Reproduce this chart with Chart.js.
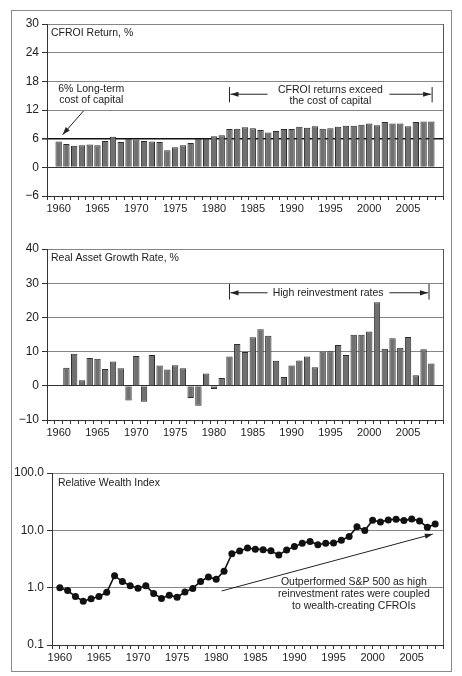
<!DOCTYPE html>
<html>
<head>
<meta charset="utf-8">
<script src="https://cdn.jsdelivr.net/npm/chart.js@4/dist/chart.umd.min.js"></script>
<style>
  body { margin: 0; background: #fff; }
  #wrap { position: relative; width: 462px; height: 676px; overflow: hidden; }
  #frame { position: absolute; left: 11px; top: 10px; width: 439px; height: 660px; border: 1px solid #8a8a8a; }
  canvas { position: absolute; left: 0; }
</style>
</head>
<body>
<div id="wrap">
  <div id="frame"></div>
  <canvas id="cfroiChart" width="462" height="220" style="top:0"></canvas>
  <canvas id="growthChart" width="462" height="220" style="top:220px"></canvas>
  <canvas id="wealthChart" width="462" height="236" style="top:440px"></canvas>
</div>
<script>
// anos
const years = [1960, 1961, 1962, 1963, 1964, 1965, 1966, 1967, 1968, 1969,
  1970, 1971, 1972, 1973, 1974, 1975, 1976, 1977, 1978, 1979,
  1980, 1981, 1982, 1983, 1984, 1985, 1986, 1987, 1988, 1989,
  1990, 1991, 1992, 1993, 1994, 1995, 1996, 1997, 1998, 1999,
  2000, 2001, 2002, 2003, 2004, 2005, 2006, 2007, 2008];

// CFROI Return, %
const cfroi = [5.4, 4.9, 4.5, 4.6, 4.8, 4.6, 5.5, 6.4, 5.3, 6.0,
  5.8, 5.5, 5.4, 5.3, 3.6, 4.2, 4.6, 5.1, 6.0, 6.0,
  6.5, 6.7, 8.0, 8.1, 8.4, 8.2, 7.8, 7.3, 7.6, 8.0,
  8.0, 8.5, 8.3, 8.6, 8.1, 8.2, 8.5, 8.7, 8.7, 8.9,
  9.2, 8.8, 9.5, 9.2, 9.2, 8.6, 9.5, 9.6, 9.6];

// Real Asset Growth Rate, % (sem valor em 1960)
const growth = [null, 5.3, 9.4, 1.6, 8.1, 7.9, 4.9, 7.1, 5.1, -4.3,
  8.7, -4.7, 9.0, 5.9, 4.8, 6.0, 5.1, -3.6, -5.8, 3.6,
  -0.9, 2.3, 8.6, 12.2, 9.9, 14.2, 16.5, 14.6, 7.3, 2.6,
  5.9, 7.4, 8.6, 5.4, 10.0, 10.1, 11.9, 9.0, 14.9, 14.9,
  15.9, 24.4, 10.8, 13.9, 11.1, 14.3, 3.1, 10.7, 6.5];

// Relative Wealth Index
const wealth = [1.0, 0.89, 0.70, 0.58, 0.64, 0.70, 0.83, 1.62, 1.28, 1.08,
  0.98, 1.08, 0.79, 0.65, 0.74, 0.68, 0.84, 0.97, 1.28, 1.54,
  1.40, 1.94, 3.9, 4.35, 4.9, 4.7, 4.6, 4.4, 3.7, 4.55,
  5.2, 5.96, 6.4, 5.6, 5.96, 6.0, 6.7, 7.8, 11.5, 9.9,
  15.0, 14.0, 15.2, 15.6, 14.8, 15.8, 14.5, 11.3, 12.9];

// marcas do eixo
const cfroiTicks = [-6, 0, 6, 12, 18, 24, 30];
const growthTicks = [-10, 0, 10, 20, 30, 40];
const wealthTicks = [0.1, 1, 10, 100];
const yearLabels = [1960, 1965, 1970, 1975, 1980, 1985, 1990, 1995, 2000, 2005];

const FONT = '"Liberation Sans", Arial, sans-serif';
Chart.defaults.font.family = FONT;
Chart.defaults.color = '#222';

const minusLabel = v => (v < 0 ? '\u2212' + Math.abs(v) : String(v));

function xAxis(axisHeight) {
  return {
    type: 'linear',
    min: 1959,
    max: 2009,
    afterBuildTicks: s => {
      const t = [];
      for (let y = 1959; y <= 2009; y++) t.push({ value: y });
      s.ticks = t;
    },
    afterFit: s => { s.height = axisHeight; },
    grid: { drawOnChartArea: false, drawTicks: true, tickLength: 4, color: '#333', lineWidth: 1 },
    border: { display: true, color: '#333', width: 1 },
    ticks: {
      autoSkip: false,
      maxRotation: 0,
      padding: 2,
      font: { size: 11 },
      color: '#222',
      callback: v => (yearLabels.includes(v) ? String(v) : '')
    }
  };
}

function yGrid(special) {
  return {
    drawTicks: true,
    tickLength: 5,
    tickColor: '#333',
    color: c => (special[c.tick.value] ? special[c.tick.value].color : '#858585'),
    lineWidth: c => (special[c.tick.value] ? special[c.tick.value].width : 1)
  };
}

function arrow(ctx, x1, y1, x2, y2) {
  ctx.beginPath();
  ctx.moveTo(x1, y1);
  ctx.lineTo(x2, y2);
  ctx.stroke();
  const a = Math.atan2(y2 - y1, x2 - x1);
  const len = 8, w = 2.6;
  ctx.beginPath();
  ctx.moveTo(x2, y2);
  ctx.lineTo(x2 - len * Math.cos(a) + w * Math.sin(a), y2 - len * Math.sin(a) - w * Math.cos(a));
  ctx.lineTo(x2 - len * Math.cos(a) - w * Math.sin(a), y2 - len * Math.sin(a) + w * Math.cos(a));
  ctx.closePath();
  ctx.fill();
}

function textAt(ctx, str, x, y, align) {
  ctx.textAlign = align || 'center';
  ctx.textBaseline = 'middle';
  ctx.fillText(str, x, y);
}

// borda direita da area do grafico
const rightBorder = {
  id: 'rightBorder',
  beforeDatasetsDraw(chart) {
    const { ctx, chartArea } = chart;
    ctx.save();
    ctx.strokeStyle = '#555';
    ctx.lineWidth = 1;
    ctx.beginPath();
    ctx.moveTo(chartArea.right + 0.5, chartArea.top);
    ctx.lineTo(chartArea.right + 0.5, chartArea.bottom);
    ctx.stroke();
    ctx.restore();
  }
};

function bracket(ctx, sx, sy, yearA, yearB, arrowEndA, arrowEndB, value, vTop, vBot, lines, textYear, textVals) {
  const y = sy.getPixelForValue(value);
  const xa = sx.getPixelForValue(yearA), xb = sx.getPixelForValue(yearB);
  ctx.beginPath();
  ctx.moveTo(xa, sy.getPixelForValue(vTop));
  ctx.lineTo(xa, sy.getPixelForValue(vBot));
  ctx.moveTo(xb, sy.getPixelForValue(vTop));
  ctx.lineTo(xb, sy.getPixelForValue(vBot));
  ctx.stroke();
  arrow(ctx, sx.getPixelForValue(arrowEndA), y, xa + 1, y);
  arrow(ctx, sx.getPixelForValue(arrowEndB), y, xb - 1, y);
  lines.forEach((l, i) => textAt(ctx, l, sx.getPixelForValue(textYear), sy.getPixelForValue(textVals[i])));
}

function noteStyle(ctx) {
  ctx.fillStyle = '#222';
  ctx.strokeStyle = '#222';
  ctx.lineWidth = 1;
  ctx.font = '10.5px ' + FONT;
}

const barStyle = {
  backgroundColor: '#707070',
  borderColor: '#2e2e2e',
  borderWidth: 1,
  barPercentage: 0.82,
  categoryPercentage: 1
};

// ---------- Painel 1: CFROI ----------
new Chart(document.getElementById('cfroiChart'), {
  type: 'bar',
  data: {
    datasets: [Object.assign({ data: years.map((y, i) => ({ x: y, y: cfroi[i] })) }, barStyle)]
  },
  options: {
    responsive: false,
    animation: false,
    devicePixelRatio: 1,
    layout: { padding: { top: 24, right: 19, left: 0, bottom: 0 } },
    plugins: { legend: { display: false }, tooltip: { enabled: false } },
    scales: {
      x: xAxis(24),
      y: {
        min: -6, max: 30,
        afterBuildTicks: s => { s.ticks = cfroiTicks.map(v => ({ value: v })); },
        afterFit: s => { s.width = 47; },
        grid: yGrid({ 6: { color: '#111', width: 1.6 }, 0: { color: '#333', width: 1 } }),
        border: { display: true, color: '#333', width: 1 },
        ticks: { font: { size: 12 }, padding: 3, color: '#222', callback: minusLabel }
      }
    }
  },
  plugins: [rightBorder, {
    id: 'notes1',
    afterDraw(chart) {
      const { ctx, chartArea } = chart;
      const sx = chart.scales.x, sy = chart.scales.y;
      ctx.save();
      noteStyle(ctx);
      textAt(ctx, 'CFROI Return, %', chartArea.left + 4, chartArea.top + 9, 'left');
      textAt(ctx, '6% Long-term', sx.getPixelForValue(1964.2), sy.getPixelForValue(16.4));
      textAt(ctx, 'cost of capital', sx.getPixelForValue(1964.2), sy.getPixelForValue(14.1));
      arrow(ctx, sx.getPixelForValue(1963.2), sy.getPixelForValue(11.8), sx.getPixelForValue(1960.5), sy.getPixelForValue(6.8));
      bracket(ctx, sx, sy, 1982, 2008.1, 1986.9, 2002.6, 15.3, 16.8, 13.6,
        ['CFROI returns exceed', 'the cost of capital'], 1995, [16.2, 13.9]);
      ctx.restore();
    }
  }]
});

// ---------- Painel 2: Real Asset Growth ----------
new Chart(document.getElementById('growthChart'), {
  type: 'bar',
  data: {
    datasets: [Object.assign({ data: years.map((y, i) => ({ x: y, y: growth[i] })) }, barStyle)]
  },
  options: {
    responsive: false,
    animation: false,
    devicePixelRatio: 1,
    layout: { padding: { top: 29, right: 19, left: 0, bottom: 0 } },
    plugins: { legend: { display: false }, tooltip: { enabled: false } },
    scales: {
      x: xAxis(20),
      y: {
        min: -10, max: 40,
        afterBuildTicks: s => { s.ticks = growthTicks.map(v => ({ value: v })); },
        afterFit: s => { s.width = 47; },
        grid: yGrid({ 0: { color: '#333', width: 1 } }),
        border: { display: true, color: '#333', width: 1 },
        ticks: { font: { size: 12 }, padding: 3, color: '#222', callback: minusLabel }
      }
    }
  },
  plugins: [rightBorder, {
    id: 'notes2',
    afterDraw(chart) {
      const { ctx, chartArea } = chart;
      const sx = chart.scales.x, sy = chart.scales.y;
      ctx.save();
      noteStyle(ctx);
      textAt(ctx, 'Real Asset Growth Rate, %', chartArea.left + 4, chartArea.top + 9, 'left');
      bracket(ctx, sx, sy, 1982, 2007.7, 1986.9, 2002.6, 27.2, 29.8, 25.2,
        ['High reinvestment rates'], 1994.7, [27.2]);
      ctx.restore();
    }
  }]
});

// ---------- Painel 3: Relative Wealth Index ----------
new Chart(document.getElementById('wealthChart'), {
  type: 'line',
  data: {
    datasets: [{
      data: years.map((y, i) => ({ x: y, y: wealth[i] })),
      borderColor: '#111',
      borderWidth: 1.6,
      pointRadius: 3.5,
      pointBackgroundColor: '#111',
      pointBorderColor: '#111',
      pointBorderWidth: 0,
      tension: 0
    }]
  },
  options: {
    responsive: false,
    animation: false,
    devicePixelRatio: 1,
    layout: { padding: { top: 33, right: 19, left: 0, bottom: 0 } },
    plugins: { legend: { display: false }, tooltip: { enabled: false } },
    scales: {
      x: xAxis(31),
      y: {
        type: 'logarithmic',
        min: 0.1, max: 100,
        afterBuildTicks: s => { s.ticks = wealthTicks.map(v => ({ value: v })); },
        afterFit: s => { s.width = 52; },
        grid: yGrid({}),
        border: { display: true, color: '#333', width: 1 },
        ticks: { font: { size: 12 }, padding: 3, color: '#222', callback: v => Number(v).toFixed(1) }
      }
    }
  },
  plugins: [rightBorder, {
    id: 'notes3',
    afterDraw(chart) {
      const { ctx, chartArea } = chart;
      const sx = chart.scales.x, sy = chart.scales.y;
      ctx.save();
      noteStyle(ctx);
      textAt(ctx, 'Relative Wealth Index', chartArea.left + 6, chartArea.top + 10, 'left');
      arrow(ctx, sx.getPixelForValue(1980.7), sy.getPixelForValue(0.876), sx.getPixelForValue(2007.7), sy.getPixelForValue(8.6));
      const tx = sx.getPixelForValue(1997.6), base = sy.getPixelForValue(1);
      textAt(ctx, 'Outperformed S&P 500 as high', tx, base - 5.5);
      textAt(ctx, 'reinvestment rates were coupled', tx, base + 6.3);
      textAt(ctx, 'to wealth-creating CFROIs', tx, base + 18);
      ctx.restore();
    }
  }]
});
</script>
</body>
</html>
